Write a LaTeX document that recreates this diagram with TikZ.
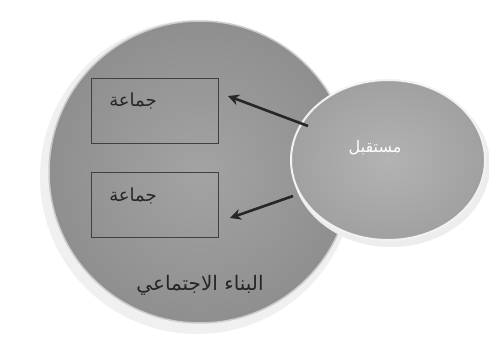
\documentclass[tikz,border=0pt]{standalone}
\usepackage{fontspec}
\TeXXeTstate=1
\newfontfamily\arabicfont[Script=Arabic]{DejaVu Sans}
\usetikzlibrary{shadows,arrows.meta,shapes.geometric}
\tikzset{
  grpbox/.style={draw=black!75, line width=0.8pt, minimum width=127pt, minimum height=65pt, inner sep=0pt},
  grptext/.style={font=\arabicfont\fontsize{18}{20}\selectfont, text=black!85},
  conn/.style={line width=2.6pt, draw=black!85, -{Stealth[length=11pt,width=11pt]}},
}
\begin{document}
\begin{tikzpicture}[x=1pt,y=-1pt]
\useasboundingbox (0,0) rectangle (489,348);
\fill[white] (0,0) rectangle (489,348);
% big circle
\path[fill=black!6] (197,177) circle[radius=157];
\node[circle, minimum size=302pt, inner sep=0pt, draw=white!80!black, line width=1.5pt,
      inner color=black!36, outer color=black!44] (big) at (200,172) {};
% boxes
\node[grpbox] (g1) at (154.5,110.5) {};
\node[grpbox] (g2) at (154.5,205) {};
\node[grptext] at (133,101) {\beginR جماعة\endR};
\node[grptext] at (133,196) {\beginR جماعة\endR};
\node[font=\arabicfont\fontsize{20}{22}\selectfont, text=black!85] (lbl) at (200,285) {\beginR البناء الاجتماعي\endR};
% small ellipse
\path[fill=black!7] (391,165) ellipse[x radius=99, y radius=82];
\node[ellipse, minimum width=194pt, minimum height=160pt, inner sep=0pt, draw=white!95!black, line width=2pt,
      inner color=black!30, outer color=black!37] (e) at (388,160) {};
\node[font=\arabicfont\fontsize{16}{18}\selectfont, text=white] (etxt) at (375,148) {\beginR مستقبل\endR};
% arrows
\coordinate (s1) at (308,126);
\coordinate (t1) at (228,96);
\coordinate (s2) at (293,196);
\coordinate (t2) at (230,218);
\draw[conn] (s1) -- (t1);
\draw[conn] (s2) -- (t2);
\end{tikzpicture}
\end{document}
